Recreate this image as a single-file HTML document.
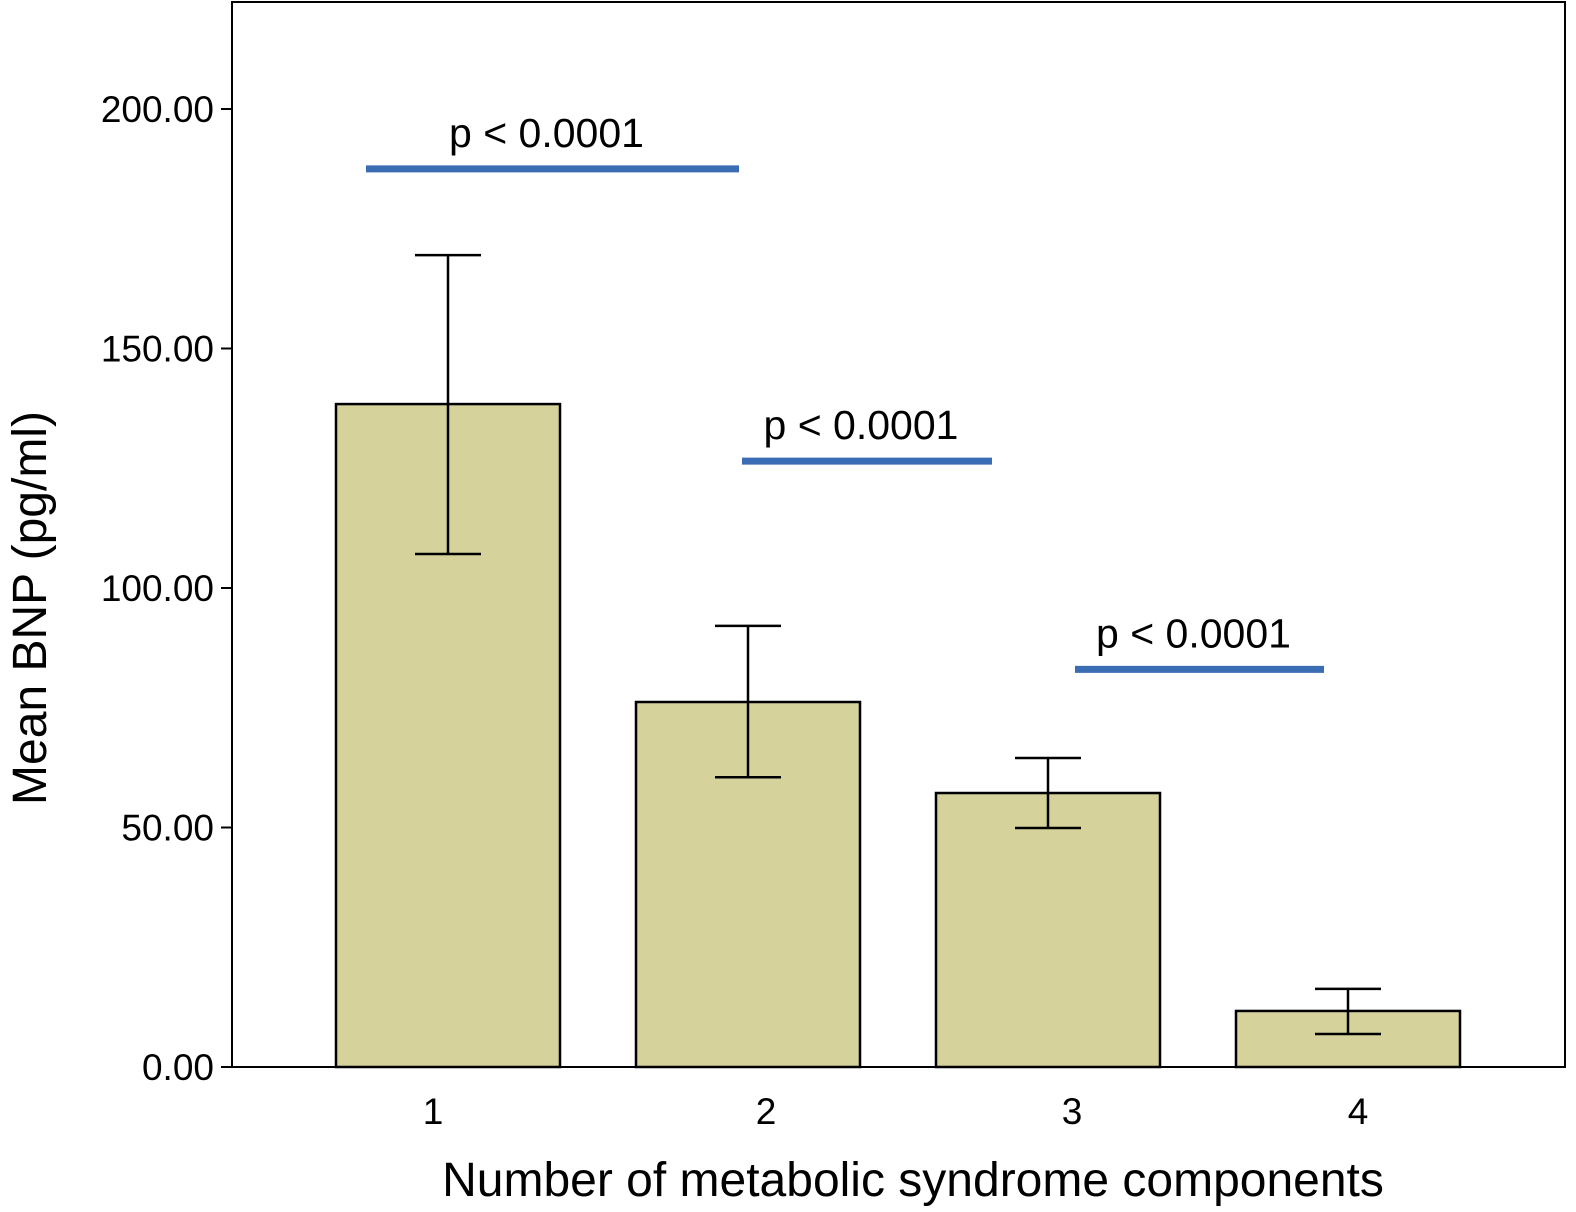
<!DOCTYPE html>
<html><head><meta charset="utf-8"><style>
html,body{margin:0;padding:0;background:#fff;}
svg{display:block;font-family:"Liberation Sans",Arial,sans-serif;}
</style></head><body>
<svg id="chart" width="1576" height="1212" viewBox="0 0 1576 1212" xmlns="http://www.w3.org/2000/svg">
<rect x="232" y="2" width="1333" height="1065" fill="none" stroke="#000" stroke-width="2"/>
<g id="yaxis"></g>
<g id="bars"></g>
<g id="xaxis"></g>
<g id="sig"></g>
<text transform="translate(46,608) rotate(-90)" text-anchor="middle" font-size="48">Mean BNP (pg/ml)</text>
<text x="913" y="1196" text-anchor="middle" font-size="48">Number of metabolic syndrome components</text>
</svg>
<script>
const categories = ["1","2","3","4"];
const means = [138.4, 76.2, 57.2, 11.7];
const upper = [169.5, 92.1, 64.5, 16.3];
const lower = [107.1, 60.5, 49.9, 6.9];
const yTicks = [0, 50, 100, 150, 200];
const yTickLabels = ["0.00","50.00","100.00","150.00","200.00"];
const sigFrom = [0, 1, 2];
const sigTo = [1, 2, 3];
const sigValue = [187.5, 126.5, 83.0];
const sigLabels = ["p < 0.0001","p < 0.0001","p < 0.0001"];

const NS="http://www.w3.org/2000/svg";
const y0=1067, pxPerUnit=(1067-109)/200;
function yS(v){return y0 - v*pxPerUnit;}
function xC(i){return 448 + i*300;}
const barW=224, capW=66;
const sigStartOff=[-82,-6,27], sigEndOff=[-9,-56,-24];
const tickLabelOff=[-15,18,24,10];
function mk(tag, attrs, parent){const e=document.createElementNS(NS,tag);for(const k in attrs)e.setAttribute(k,attrs[k]);parent.appendChild(e);return e;}
const ya=document.getElementById('yaxis'), bars=document.getElementById('bars'), xa=document.getElementById('xaxis'), sig=document.getElementById('sig');
yTicks.forEach((t,i)=>{
  const l=mk('line',{x1:221,x2:232,y1:yS(t),y2:yS(t),stroke:'#000','stroke-width':2},ya);
  
  
  const tx=mk('text',{x:214,y:yS(t)+13,'text-anchor':'end','font-size':37},ya);
  tx.textContent=yTickLabels[i];
  
  
});
categories.forEach((c,i)=>{
  const cx=xC(i);
  const r=mk('rect',{x:cx-barW/2,y:yS(means[i]),width:barW,height:y0-yS(means[i]),fill:'#d6d29b',stroke:'#000','stroke-width':2.5},bars);
  
  
  const g=mk('g',{stroke:'#000','stroke-width':2.5},bars);
  
  
  mk('line',{x1:cx,x2:cx,y1:yS(upper[i]),y2:yS(lower[i])},g);
  mk('line',{x1:cx-capW/2,x2:cx+capW/2,y1:yS(upper[i]),y2:yS(upper[i])},g);
  mk('line',{x1:cx-capW/2,x2:cx+capW/2,y1:yS(lower[i]),y2:yS(lower[i])},g);
  const tx=mk('text',{x:cx+tickLabelOff[i],y:1124,'text-anchor':'middle','font-size':37},xa);
  tx.textContent=c;
  
  
});
sigFrom.forEach((f,i)=>{
  const x1=xC(f)+sigStartOff[i], x2=xC(sigTo[i])+sigEndOff[i];
  const yy=yS(sigValue[i]);
  const l=mk('line',{x1:x1,x2:x2,y1:yy,y2:yy,stroke:'#3a6db3','stroke-width':7},sig);
  
  
  const tx=mk('text',{x:(x1+x2)/2-6,y:yy-22,'text-anchor':'middle','font-size':41},sig);
  tx.textContent=sigLabels[i];
  
  
});
</script>
</body></html>
